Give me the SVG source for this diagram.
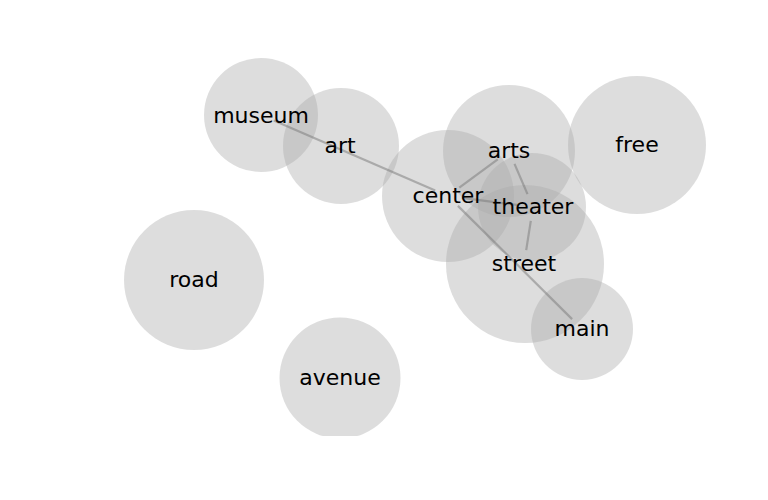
<svg xmlns="http://www.w3.org/2000/svg" width="768" height="500" viewBox="0 0 768 500">
  <style>
    .bubble { fill: #aaaaaa; fill-opacity: 0.4; stroke: none; }
    .edge { stroke: #777777; stroke-opacity: 0.5; stroke-width: 2.2; stroke-linecap: butt; fill: none; }
    .label { font-family: "DejaVu Sans", sans-serif; font-size: 22px; fill: #000000; text-anchor: middle; }
  </style>
  <defs>
    <clipPath id="plot-area">
      <rect x="0" y="0" width="768" height="436"/>
    </clipPath>
  </defs>
  <rect width="768" height="500" fill="#ffffff"/>

  <!-- word bubbles -->
  <g clip-path="url(#plot-area)">
    <g id="node-museum"><circle class="bubble" cx="261" cy="115" r="57"/></g>
    <g id="node-art"><circle class="bubble" cx="341" cy="146" r="58"/></g>
    <g id="node-center"><circle class="bubble" cx="448" cy="196" r="66"/></g>
    <g id="node-arts"><circle class="bubble" cx="509" cy="151" r="66"/></g>
    <g id="node-free"><circle class="bubble" cx="637" cy="145" r="69"/></g>
    <g id="node-theater"><circle class="bubble" cx="532" cy="207" r="54"/></g>
    <g id="node-street"><circle class="bubble" cx="525" cy="264" r="79"/></g>
    <g id="node-main"><circle class="bubble" cx="582" cy="329" r="51"/></g>
    <g id="node-road"><circle class="bubble" cx="194" cy="280" r="70"/></g>
    <g id="node-avenue"><circle class="bubble" cx="340" cy="378" r="60.5"/></g>
  </g>

  <!-- co-occurrence links, trimmed short of each word -->
  <g id="connectors">
    <line class="edge" x1="273.8" y1="120.6" x2="435.2" y2="190.4"/>
    <line class="edge" x1="459.3" y1="187.7" x2="497.7" y2="159.3"/>
    <line class="edge" x1="461.9" y1="197.8" x2="519.1" y2="205.2"/>
    <line class="edge" x1="457.9" y1="205.9" x2="572.1" y2="319.1"/>
    <line class="edge" x1="514.5" y1="163.9" x2="527.5" y2="194.1"/>
    <line class="edge" x1="530.8" y1="220.8" x2="526.2" y2="250.2"/>
  </g>

  <!-- word labels -->
  <g id="labels">
    <text class="label" x="261" y="123">museum</text>
    <text class="label" x="340" y="153">art</text>
    <text class="label" x="448" y="203">center</text>
    <text class="label" x="509" y="158">arts</text>
    <text class="label" x="637" y="152">free</text>
    <text class="label" x="533" y="214">theater</text>
    <text class="label" x="524" y="271">street</text>
    <text class="label" x="582" y="336">main</text>
    <text class="label" x="194" y="287">road</text>
    <text class="label" x="340" y="385">avenue</text>
  </g>
</svg>
